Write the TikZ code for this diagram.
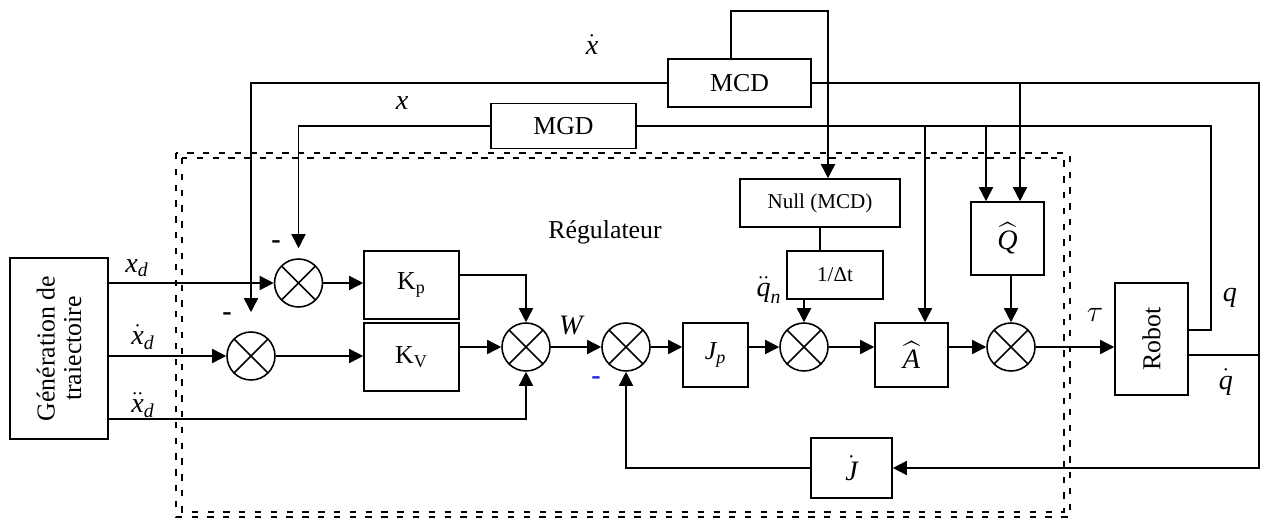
\documentclass[tikz,border=0pt]{standalone}
\usepackage{amsmath}
\usepackage{fontspec}
\setmainfont{Liberation Serif}
\usetikzlibrary{arrows.meta,positioning}
\definecolor{minuscolor}{HTML}{1F1FE0}

\begin{document}
\begin{tikzpicture}[x=0.02cm, y=-0.02cm, line width=0.9pt,
    every node/.style={font=\fontsize{14.7}{15}\selectfont},
    blk/.style={draw, rectangle, inner sep=0pt, align=center},
    summer/.style={draw, circle, minimum size=0.96cm, inner sep=0pt,
        path picture={\draw (path picture bounding box.north west) -- (path picture bounding box.south east)
                            (path picture bounding box.north east) -- (path picture bounding box.south west);}},
    arr/.style={-{Triangle[length=8pt, width=8pt]}},
    lbl/.style={font=\fontsize{16}{18}\selectfont, inner sep=0pt},
    minus/.style={font=\bfseries\fontsize{16}{18}\selectfont, inner sep=0pt},
    dashbox/.style={dash pattern=on 3.6pt off 5.4pt, line width=1.15pt}]
    \useasboundingbox (0,0) rectangle (1263,521);

    % Regulator frame (double dashed)
    \draw[dashbox] (176,153) rectangle (1070,517);
    \draw[dashbox] (182,158) rectangle (1064,512);
    \node (reg) at (605,232) {Régulateur};

    % Trajectory generator
    \node[blk, minimum width=1.96cm, minimum height=3.62cm] (gen) at (59,348.5) {};
    \node[rotate=90, align=center] (gentxt) at (gen) {Génération de\\traiectoire};

    % Summing junctions
    \node[summer] (s1) at (298.5,283) {};
    \node[summer] (s2) at (251,356) {};
    \node[summer] (s3) at (526,347) {};
    \node[summer] (s4) at (626,347) {};
    \node[summer] (s5) at (804,347) {};
    \node[summer] (s6) at (1011,347) {};

    % Blocks
    \node[blk, minimum width=1.9cm, minimum height=1.36cm] (kp) at (411.5,285) {K\textsubscript{p}};
    \node[blk, minimum width=1.9cm, minimum height=1.36cm] (kv) at (411.5,357) {K\textsubscript{V}};
    \node[blk, minimum width=1.3cm, minimum height=1.28cm] (jp) at (715.5,355) {$\textit{J}_{\textit{p}}$};
    \node[blk, minimum width=1.46cm, minimum height=1.28cm, font=\fontsize{16}{18}\selectfont] (ahat) at (911.5,355) {$\widehat{\textit{A}}$};
    \node[blk, minimum width=1.46cm, minimum height=1.46cm, font=\fontsize{16}{18}\selectfont] (qhat) at (1007.5,238.5) {$\widehat{\textit{Q}}$};
    \node[blk, minimum width=1.92cm, minimum height=0.96cm, font=\fontsize{12}{14}\selectfont] (dt) at (835,275) {1/Δt};
    \node[blk, minimum width=3.2cm, minimum height=0.96cm, font=\fontsize{12}{14}\selectfont] (null) at (820,203) {Null (MCD)};
    \node[blk, minimum width=2.86cm, minimum height=0.96cm] (mcd) at (739.5,83) {MCD};
    \node[blk, minimum width=2.9cm, minimum height=0.9cm] (mgd) at (563.5,126) {MGD};
    \node[blk, minimum width=1.46cm, minimum height=2.24cm] (robot) at (1151.5,339) {};
    \node[rotate=90] (robottxt) at (robot) {Robot};
    \node[blk, minimum width=1.62cm, minimum height=1.2cm, font=\fontsize{16}{18}\selectfont] (jdot) at (851.5,468) {$\dot{\textit{J}}$};

    % Corners of the feedback lines
    \coordinate (qcorner) at (1211,126);
    \coordinate (qdcorner) at (1259,83);
    \coordinate (mcdloop) at (828,11);
    \coordinate (ain) at ([xshift=0.27cm]ahat.north);
    \coordinate (qin1) at ([xshift=-0.43cm]qhat.north);
    \coordinate (qin2) at ([xshift=0.25cm]qhat.north);

    % Forward path
    \draw[arr] (s1 -| gen.east) -- (s1);
    \draw[arr] (s2 -| gen.east) -- (s2);
    \draw[arr] ([yshift=-1.41cm]gen.east) -| (s3);
    \draw[arr] (s1) -- (s1 -| kp.west);
    \draw[arr] (s2) -- (s2 -| kv.west);
    \draw[arr] ([yshift=0.2cm]kp.east) -| (s3);
    \draw[arr] (s3 -| kv.east) -- (s3);
    \draw[arr] (s3) -- (s4);
    \draw[arr] (s4) -- (s4 -| jp.west);
    \draw[arr] (s4 -| jp.east) -- (s5);
    \draw[arr] (s5) -- (s5 -| ahat.west);
    \draw[arr] (s6 -| ahat.east) -- (s6);
    \draw[arr] (s6) -- (s6 -| robot.west);
    \draw[arr] (qhat.south -| s6) -- (s6);
    \draw[arr] (s5 |- dt.south) -- (s5);
    \draw (null) -- (null |- dt.north);
    \draw[arr] ([xshift=-0.17cm]mcd.north) |- (mcdloop) -- (mcdloop |- null.north);

    % Feedback from the robot
    \draw ([yshift=0.18cm]robot.east) -| (qcorner) -- (mgd.east);
    \draw ([yshift=-0.32cm]robot.east) -| (qdcorner) -- (mcd.east);
    \draw[arr] (qdcorner) |- (jdot.east);
    \draw[arr] (jdot.west) -| (s4);
    \draw[arr] (mcd.west) -| ([yshift=0.38cm]s2.north);
    \draw[arr] (mgd.west) -| ([yshift=0.2cm]s1.north);
    \draw[arr] (ain |- qcorner) -- (ain);
    \draw[arr] (qin1 |- qcorner) -- (qin1);
    \draw[arr] (qin2 |- qdcorner) -- (qin2);

    % Signal labels
    \node[lbl] (lxdot) at (592,45) {$\dot{\textit{x}}$};
    \node[lbl] (lx) at (402,103) {\textit{x}};
    \node[lbl] (lxd) at (137,268) {$\textit{x}_{\textit{d}}$};
    \node[lbl] (lxdd) at (143,337) {$\dot{\textit{x}}_{\textit{d}}$};
    \node[lbl] (lxddd) at (143,405) {$\ddot{\textit{x}}_{\textit{d}}$};
    \node[lbl] (lw) at (572,326) {\textit{W}};
    \node[lbl] (lqn) at (769,290) {$\ddot{\textit{q}}_{\textit{n}}$};
    \node[lbl] (ltau) at (1095,315) {$\tau$};
    \node[lbl] (lq) at (1230,298) {\textit{q}};
    \node[lbl] (lqd) at (1226,382) {$\dot{\textit{q}}$};
    \node[minus] (m1) at (276,245) {-};
    \node[minus] (m2) at (227,317) {-};
    \node[minus, text=minuscolor] (m3) at (596,381) {-};
\end{tikzpicture}
\end{document}
